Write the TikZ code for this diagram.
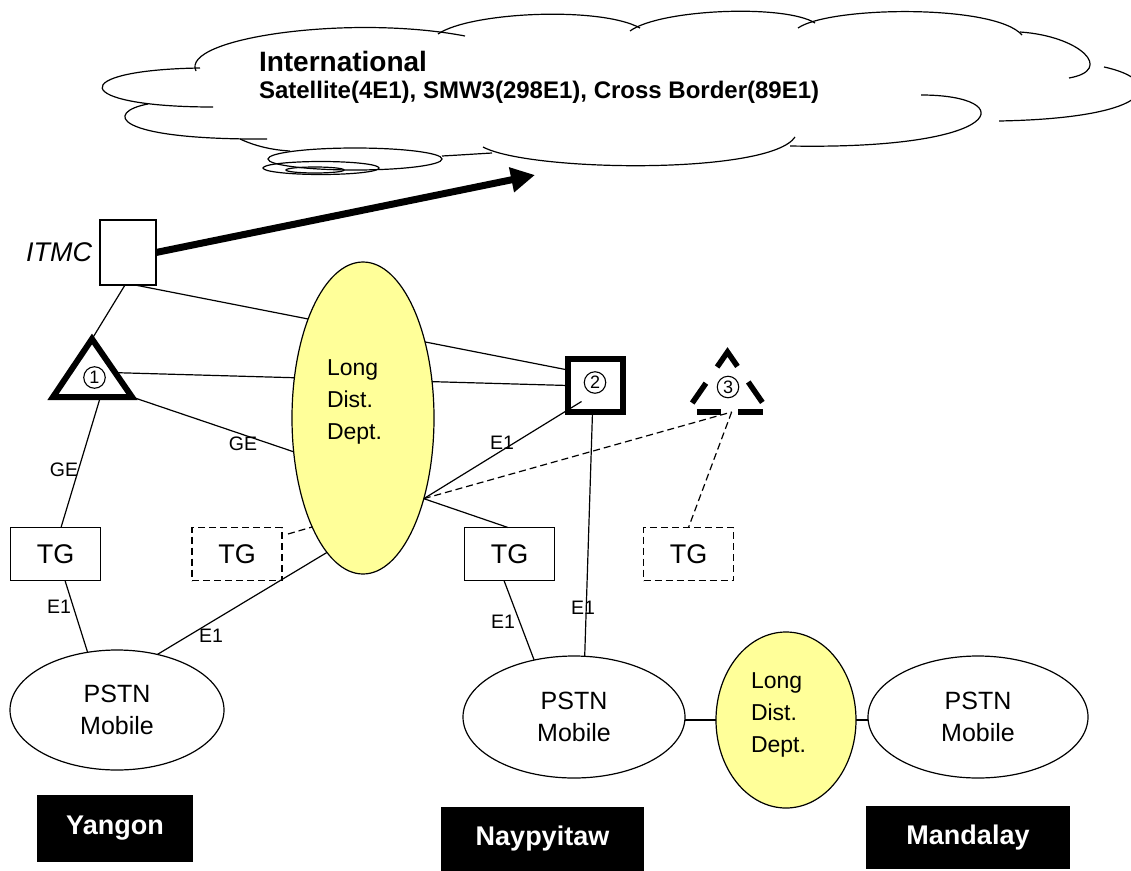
\documentclass[tikz,border=0pt]{standalone}
\usepackage{fontspec}
\setmainfont{Liberation Sans}
\usetikzlibrary{shapes.geometric,arrows.meta,calc,backgrounds}
\definecolor{lddyellow}{RGB}{255,255,153}
\begin{document}
\begin{tikzpicture}[x=1pt,y=-1pt,
  every node/.style={inner sep=0pt,outer sep=0pt},
  wire/.style={line width=1.2pt},
  dwire/.style={line width=1.2pt,dash pattern=on 7pt off 4pt},
  cloudline/.style={line width=1.2pt},
  tgbox/.style={draw,line width=1.2pt,minimum width=90pt,minimum height=53pt,font=\fontsize{27}{32}\selectfont},
  tgdash/.style={tgbox,dash pattern=on 7pt off 4pt},
  oval/.style={ellipse,draw,line width=1.2pt,fill=white,align=center,font=\fontsize{25}{32}\selectfont},
  lddoval/.style={ellipse,draw,line width=1.2pt,fill=lddyellow},
  lddtext/.style={align=left,anchor=north west,font=\fontsize{23}{32}\selectfont},
  city/.style={fill=black,text=white,font=\bfseries\fontsize{27}{32}\selectfont},
  linklabel/.style={font=\fontsize{19.5}{22}\selectfont},
  circnum/.style={circle,draw,line width=1.1pt,minimum size=21.5pt,font=\fontsize{18}{20}\selectfont},
  tri3/.style={line width=5.5pt,line join=miter},
]
\useasboundingbox (0,0) rectangle (1131,870);

% ---- international cloud ----
\draw[cloudline] (213,107) .. controls (70,107) and (65,70) .. (200,68);
\draw[cloudline] (196,71) .. controls (180,38) and (350,14) .. (465,36);
\draw[cloudline] (438,34) .. controls (470,12) and (600,6) .. (640,28);
\draw[cloudline] (630,31) .. controls (660,9) and (785,4) .. (815,23);
\draw[cloudline] (798,28) .. controls (830,6) and (995,4) .. (1022,35);
\draw[cloudline] (1020,32) .. controls (1080,36) and (1115,70) .. (1069,78);
\draw[cloudline] (1104,67) .. controls (1165,80) and (1160,118) .. (999,121);
\draw[cloudline] (921,95) .. controls (1020,95) and (1010,150) .. (790,146);
\draw[cloudline] (795,137) .. controls (770,175) and (530,172) .. (483,147);
\draw[cloudline] (442,156) .. controls (460,155) and (475,154) .. (492,153);
\draw[cloudline] (148,104) .. controls (105,112) and (110,140) .. (267,139);
\draw[cloudline] (240,139) .. controls (255,146) and (272,150) .. (290,151);
\draw[cloudline] (355,159) ellipse [x radius=87pt,y radius=11pt];
\draw[cloudline] (321,168) ellipse [x radius=58pt,y radius=6.5pt];
\draw[cloudline] (315,170) ellipse [x radius=29pt,y radius=3pt];
\node[font=\bfseries\fontsize{28}{32}\selectfont,anchor=west] (intl) at (259,61) {International};
\node[font=\bfseries\fontsize{24}{28}\selectfont,anchor=west] (links) at (259,92) {Satellite(4E1), SMW3(298E1), Cross Border(89E1)};
\coordinate (cloudtip) at (535,175);

% ---- gateway and switches ----
\node[draw,line width=1.2pt,minimum width=56pt,minimum height=65pt] (itmc) at (128,252.5) {};
\node[font=\itshape\fontsize{27}{30}\selectfont,anchor=east] (itmclabel) at (92,252) {ITMC};
\draw[line width=7pt,-{Triangle[length=24pt,width=24pt]}] (itmc.east) -- (cloudtip);

\coordinate (t1a) at (92,339);
\coordinate (t1l) at (53,397);
\coordinate (t1r) at (132,397);
\draw[line width=6pt,line join=miter] (t1a) -- (t1r) -- (t1l) -- cycle;
\node[circnum] (n1) at (94.5,377.5) {1};

\node[draw,line width=5.5pt,minimum width=55pt,minimum height=53pt] (sw2) at (595.5,385.5) {};
\node[circnum] (n2) at (595,382.5) {2};

\coordinate (a3) at (727.5,352);
\coordinate (l3) at (686,412);
\coordinate (r3) at (769,412);
\draw[tri3] ($(a3)!0.25!(l3)$) -- (a3) -- ($(a3)!0.24!(r3)$);
\draw[tri3] ($(a3)!0.5!(r3)$) -- ($(a3)!0.84!(r3)$);
\draw[tri3] ($(a3)!0.52!(l3)$) -- ($(a3)!0.85!(l3)$);
\draw[tri3] ($(l3)!0.13!(r3)$) -- ($(l3)!0.42!(r3)$);
\draw[tri3] ($(l3)!0.63!(r3)$) -- ($(l3)!0.93!(r3)$);
\node[circnum] (n3) at (728,387) {3};

% ---- long distance departments ----
\node[lddoval,minimum width=142pt,minimum height=312pt] (ldd1) at (363,418) {};
\node[lddtext] (ldd1t) at (327,360) {Long\\Dist.\\Dept.};
\node[lddoval,minimum width=140pt,minimum height=176pt] (ldd2) at (786,720) {};
\node[lddtext] (ldd2t) at (751,673) {Long\\Dist.\\Dept.};

% ---- trunk gateways ----
\node[tgbox] (tg1) at (55.5,554) {TG};
\node[tgdash] (tg2) at (237,554) {TG};
\node[tgbox] (tg3) at (509.5,554) {TG};
\node[tgdash] (tg4) at (688.5,554) {TG};

% ---- local networks ----
\node[oval,minimum width=214pt,minimum height=120pt] (pstn1) at (117,710) {PSTN\\Mobile};
\node[oval,minimum width=222pt,minimum height=122pt] (pstn2) at (574,717) {PSTN\\Mobile};
\node[oval,minimum width=220pt,minimum height=122pt] (pstn3) at (978,717) {PSTN\\Mobile};

% ---- city captions ----
\node[city,minimum width=156pt,minimum height=67pt] (yangon) at (115,828.5) {Yangon};
\node[city,minimum width=203pt,minimum height=64pt] (nay) at (542.5,839) {Naypyitaw};
\node[city,minimum width=204pt,minimum height=63pt] (mdy) at (968,837.5) {Mandalay};

% ---- link labels ----
\node[linklabel] (ge1) at (64,470) {GE};
\node[linklabel] (ge2) at (243,444) {GE};
\node[linklabel] (e1a) at (59,607) {E1};
\node[linklabel] (e1b) at (211,636) {E1};
\node[linklabel] (e1c) at (502,443) {E1};
\node[linklabel] (e1d) at (503,622) {E1};
\node[linklabel] (e1e) at (583,608) {E1};

% ---- links ----
\begin{scope}[on background layer]
\fill[white] (0,0) rectangle (1131,870);
\draw[wire] ([xshift=-3pt]itmc.south) -- (t1a);
\draw[wire] ([xshift=7pt]itmc.south) -- ([yshift=15.5pt]sw2.west);
\draw[wire] ($(t1a)!0.58!(t1r)$) -- (sw2.west);
\draw[wire] (t1r) -- (ldd1.206.9);
\draw[wire] ($(t1l)!0.6!(t1r)$) -- ([xshift=5.5pt]tg1.north);
\draw[wire] ([xshift=9.5pt]tg1.south) -- (pstn1.117);
\draw[dwire] ([xshift=6pt,yshift=20pt]tg2.east) -- (ldd1.245.4);
\draw[wire] (pstn1.54.5) -- (ldd1.255.07);
\draw[wire] (ldd1.307.7) -- ([xshift=-14pt,yshift=-16pt]sw2.center);
\draw[dwire] (ldd1.307.7) -- ($(l3)!0.55!(r3)$);
\draw[wire] (ldd1.307.7) -- ([xshift=-1.5pt]tg3.north);
\draw[dwire] ($(l3)!0.55!(r3)$) -- (tg4.north);
\draw[wire] ([xshift=-3pt]sw2.south) -- (pstn2.80.7);
\draw[wire] ([xshift=-5.5pt]tg3.south) -- (pstn2.125.3);
\draw[wire] (pstn2.east |- ldd2.west) -- (ldd2.west);
\draw[wire] (ldd2.east) -- (pstn3.west |- ldd2.east);
\end{scope}
\end{tikzpicture}
\end{document}
